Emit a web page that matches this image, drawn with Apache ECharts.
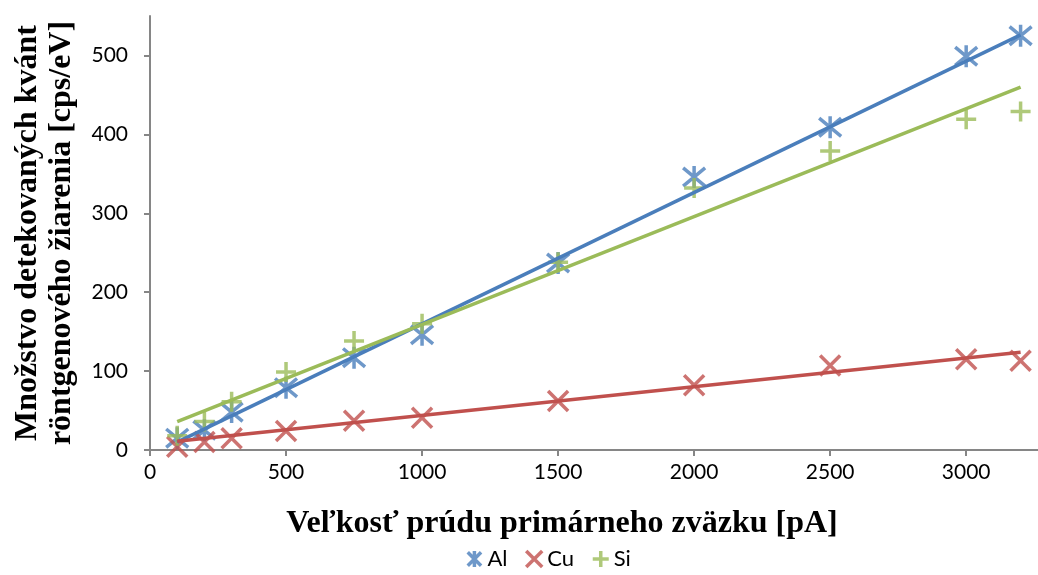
<!DOCTYPE html>
<html>
<head>
<meta charset="utf-8">
<script src="https://cdn.jsdelivr.net/npm/echarts@6/dist/echarts.min.js"></script>
<style>
html,body{margin:0;padding:0;background:#fff;}
#chart{width:1038px;height:575px;}
</style>
</head>
<body>
<div id="chart"></div>
<script>
const currents = [100, 200, 300, 500, 750, 1000, 1500, 2000, 2500, 3000, 3200];
const alValues = [15, 25, 48, 79, 117, 146, 237, 346, 409, 499, 525];
const cuValues = [4, 10, 15, 24, 37, 41, 62, 82, 107, 115, 113];
const siValues = [18, 36, 61, 99, 138, 160, 238, 332, 379, 419, 429];
const alTrend = [[100, 10], [3200, 526]];
const cuTrend = [[100, 11], [3200, 124]];
const siTrend = [[100, 36], [3200, 460]];
const xTicks = [0, 500, 1000, 1500, 2000, 2500, 3000];
const yTicks = [0, 100, 200, 300, 400, 500];

const colors = {Al: '#4A7EBB', Cu: '#C0504D', Si: '#9BBB59'};
const symAsterisk = 'path://M0,0L10,10M10,0L0,10M5,-1L5,11';
const symX = 'path://M0,0L10,10M10,0L0,10';
const symPlus = 'path://M5,0L5,10M0,5L10,5';

function pts(vals) { return currents.map((c, i) => [c, vals[i]]); }
function scatter(name, vals, sym, size) {
  return {
    name: name, type: 'scatter', data: pts(vals), symbol: sym, symbolSize: size,
    itemStyle: {color: 'rgba(0,0,0,0)', borderColor: colors[name], borderWidth: 3.5},
    z: 3
  };
}
function trend(name, d) {
  return {
    name: name, type: 'line', data: d, showSymbol: false, symbol: 'none',
    lineStyle: {color: colors[name], width: 3.5}, itemStyle: {color: colors[name]},
    z: 4, silent: true, legendHoverLink: false
  };
}

const chart = echarts.init(document.getElementById('chart'));
chart.setOption({
  animation: false,
  grid: {left: 150, right: 0, top: 16, bottom: 125, containLabel: false},
  legend: {
    data: [
      {name: 'Al', icon: symAsterisk},
      {name: 'Cu', icon: symX},
      {name: 'Si', icon: symPlus}
    ],
    bottom: 0, left: 461, itemWidth: 16, itemHeight: 16, itemGap: 17,
    textStyle: {fontFamily: 'Lato', fontSize: 22, color: '#000'},
    itemStyle: {borderWidth: 3.5}
  },
  xAxis: {
    type: 'value', min: 0, max: 3264, interval: 500,
    name: 'Veľkosť prúdu primárneho zväzku [pA]', nameLocation: 'middle', nameGap: 58,
    nameTextStyle: {fontFamily: 'Liberation Serif', fontWeight: 'bold', fontSize: 32, color: '#000',
      padding: [0, 64, 0, 0]},
    axisLine: {lineStyle: {color: '#868686', width: 2}},
    axisTick: {show: true, length: 6, lineStyle: {color: '#868686', width: 2}, customValues: xTicks},
    axisLabel: {fontFamily: 'Lato', fontSize: 21, color: '#000', margin: 12, customValues: xTicks,
      formatter: v => String(v)},
    splitLine: {show: false}
  },
  yAxis: {
    type: 'value', min: 0, max: 550, interval: 100,
    name: 'Množstvo detekovaných kvánt\nröntgenového žiarenia [cps/eV]', nameLocation: 'middle', nameGap: 71,
    nameRotate: 90,
    nameTextStyle: {fontFamily: 'Liberation Serif', fontWeight: 'bold', fontSize: 32, color: '#000', lineHeight: 34},
    axisLine: {show: true, lineStyle: {color: '#868686', width: 2}},
    axisTick: {show: true, length: 6, lineStyle: {color: '#868686', width: 2}, customValues: yTicks},
    axisLabel: {fontFamily: 'Lato', fontSize: 21, color: '#000', margin: 22, customValues: yTicks,
      formatter: v => String(v)},
    splitLine: {show: false}
  },
  series: [
    scatter('Al', alValues, symAsterisk, 22),
    scatter('Cu', cuValues, symX, 20),
    scatter('Si', siValues, symPlus, 20),
    trend('Al', alTrend),
    trend('Cu', cuTrend),
    trend('Si', siTrend)
  ]
});
</script>
</body>
</html>
